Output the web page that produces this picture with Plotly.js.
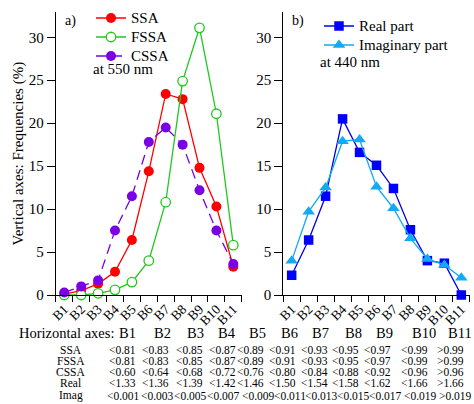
<!DOCTYPE html>
<html>
<head>
<meta charset="utf-8">
<script src="https://cdn.plot.ly/plotly-3.0.1.min.js"></script>
<style>
  html, body { margin: 0; padding: 0; background: #ffffff; }
  #chart { width: 474px; height: 404px; }
</style>
</head>
<body>
<div id="chart"></div>
<script>
// Size-bin categories shared by both panels
const BINS = ['B1', 'B2', 'B3', 'B4', 'B5', 'B6', 'B7', 'B8', 'B9', 'B10', 'B11'];

// Panel a: single-scattering albedo frequencies (%) at 550 nm
const SSA  = [0.1, 0.5, 1.3, 2.7, 6.4, 14.4, 23.4, 22.8, 14.8, 10.3, 3.3];
const FSSA = [0.0, 0.0, 0.2, 0.6, 1.5, 4.0, 10.8, 24.9, 31.1, 21.1, 5.8];
const CSSA = [0.3, 1.0, 1.7, 7.5, 11.5, 17.8, 19.5, 17.5, 12.2, 7.5, 3.6];

// Panel b: refractive index frequencies (%) at 440 nm
const REAL = [2.3, 6.4, 11.5, 20.5, 16.6, 15.1, 12.4, 7.6, 4.0, 3.7, 0.0];
const IMAG = [4.0, 9.7, 12.5, 17.9, 18.1, 12.6, 10.1, 6.6, 4.2, 3.5, 2.0];

const Y_TICKS = [0, 5, 10, 15, 20, 25, 30];

// Bin-limit table printed under the panels
const TABLE_HEAD = 'Horizontal axes:';
const ROW_NAMES = ['SSA', 'FSSA', 'CSSA', 'Real', 'Imag'];
const LIM_SSA  = ['<0.81', '<0.83', '<0.85', '<0.87', '<0.89', '<0.91', '<0.93', '<0.95', '<0.97', '<0.99', '>0.99'];
const LIM_FSSA = ['<0.81', '<0.83', '<0.85', '<0.87', '<0.89', '<0.91', '<0.93', '<0.95', '<0.97', '<0.99', '>0.99'];
const LIM_CSSA = ['<0.60', '<0.64', '<0.68', '<0.72', '<0.76', '<0.80', '<0.84', '<0.88', '<0.92', '<0.96', '>0.96'];
const LIM_REAL = ['<1.33', '<1.36', '<1.39', '<1.42', '<1.46', '<1.50', '<1.54', '<1.58', '<1.62', '<1.66', '>1.66'];
const LIM_IMAG = ['<0.001', '<0.003', '<0.005', '<0.007', '<0.009', '<0.011', '<0.013', '<0.015', '<0.017', '<0.019', '>0.019'];

// ---------------- layout helpers ----------------
const W = 474, H = 404;
const FONT = 'Liberation Serif, Times New Roman, Times, serif';
const px = v => v / W;          // pixel x -> paper
const py = v => 1 - v / H;      // pixel y -> paper

const C_SSA = '#ff0000', C_FSSA = '#1ec81e', C_CSSA = '#7a00e6';
const C_REAL = '#0000ff', C_IMAG = '#10aaf5';

// legend entries keep a compact row height while the label itself is larger
const legendLabel = s => '<span style="font-size:15px">' + s + '</span>';

const traces = [
  { x: BINS, y: SSA, name: legendLabel('SSA'), xaxis: 'x', yaxis: 'y', legend: 'legend',
    mode: 'lines+markers', cliponaxis: false,
    line: { color: C_SSA, width: 1.3 },
    marker: { symbol: 'circle', size: 10, color: C_SSA } },
  { x: BINS, y: FSSA, name: legendLabel('FSSA'), xaxis: 'x', yaxis: 'y', legend: 'legend',
    mode: 'lines+markers', cliponaxis: false,
    line: { color: C_FSSA, width: 1.3 },
    marker: { symbol: 'circle', size: 9.5, color: '#ffffff', line: { color: C_FSSA, width: 1.3 } } },
  { x: BINS, y: CSSA, name: legendLabel('CSSA'), xaxis: 'x', yaxis: 'y', legend: 'legend',
    mode: 'lines+markers', cliponaxis: false,
    line: { color: C_CSSA, width: 1.3, dash: '10px,6px' },
    marker: { symbol: 'circle', size: 10, color: C_CSSA } },
  { x: BINS, y: REAL, name: legendLabel('Real part'), xaxis: 'x2', yaxis: 'y2', legend: 'legend2',
    mode: 'lines+markers', cliponaxis: false,
    line: { color: '#0000e6', width: 1.3 },
    marker: { symbol: 'square', size: 9.5, color: C_REAL } },
  { x: BINS, y: IMAG, name: legendLabel('Imaginary part'), xaxis: 'x2', yaxis: 'y2', legend: 'legend2',
    mode: 'lines+markers', cliponaxis: false,
    line: { color: C_IMAG, width: 1.3 },
    marker: { symbol: 'triangle-up', size: 11, color: C_IMAG } }
];

function xAxis(domain, anchor) {
  return {
    domain: domain, anchor: anchor, type: 'category',
    categoryorder: 'array', categoryarray: BINS,
    range: [-0.5, BINS.length - 0.5],
    tickmode: 'linear', tick0: 0, dtick: 1,
    tickson: 'boundaries', ticks: 'outside', ticklen: 6, tickwidth: 1, tickcolor: '#000',
    showline: true, linecolor: '#000', linewidth: 1,
    showgrid: false, zeroline: false, tickangle: -45,
    tickfont: { family: FONT, size: 13.5, color: '#000' }
  };
}
function yAxis(anchor) {
  return {
    domain: [py(295), py(11.5)], anchor: anchor, range: [0, 33],
    tickvals: Y_TICKS, ticktext: Y_TICKS.map(String),
    ticks: 'outside', ticklen: 8, tickwidth: 1, tickcolor: '#000',
    showline: true, linecolor: '#000', linewidth: 1,
    showgrid: false, zeroline: false,
    tickfont: { family: FONT, size: 15, color: '#000' }
  };
}

const annotations = [];
function addText(text, x, y, size, opts) {
  annotations.push(Object.assign({
    text: text, xref: 'paper', yref: 'paper', x: px(x), y: py(y),
    xanchor: 'center', yanchor: 'middle', showarrow: false, borderpad: 0,
    font: { family: FONT, size: size, color: '#000' }
  }, opts || {}));
}

addText('Vertical axes: Frequencies (%)', 17.5, 154, 15, { textangle: -90 });
addText('a)', 70, 21, 14);
addText('b)', 297.5, 21, 14);
addText('at 550 nm', 123, 69, 15);
addText('at 440 nm', 350, 61.5, 15);

// table header
addText(TABLE_HEAD, 66.5, 333, 14.5);
const HEAD_X = [128, 162, 195, 227, 257, 289, 320.5, 353, 384, 424, 459.5];
BINS.forEach((b, i) => addText(b, HEAD_X[i], 333, 14.5));

// table body
const ROW_Y = [349.5, 360.7, 371.5, 382.7, 395.5];
const COL_X = [122, 155.5, 189.5, 222.5, 250.5, 282.3, 314, 345.7, 377.3, 414, 450.7];
const COL_X_WIDE = [123, 157, 190, 223, 258, 290, 321.5, 353, 385, 420.7, 455];
const ROWS = [LIM_SSA, LIM_FSSA, LIM_CSSA, LIM_REAL, LIM_IMAG];
ROWS.forEach((vals, r) => {
  addText(ROW_NAMES[r], 70.5, ROW_Y[r], 11.5);
  const cx = (r === ROWS.length - 1) ? COL_X_WIDE : COL_X;
  vals.forEach((v, c) => addText(v, cx[c], ROW_Y[r], 11.5));
});

const legendStyle = (x, y) => ({
  x: px(x), y: py(y), xanchor: 'left', yanchor: 'top',
  bgcolor: 'rgba(0,0,0,0)', borderwidth: 0, orientation: 'v',
  font: { family: FONT, size: 12, color: '#000' }, tracegroupgap: 0
});

const layout = {
  width: W, height: H,
  margin: { l: 0, r: 0, t: 0, b: 0, pad: 0 },
  paper_bgcolor: '#ffffff', plot_bgcolor: 'rgba(0,0,0,0)',
  showlegend: true,
  xaxis: xAxis([px(55.85), px(241.75)], 'y'),
  yaxis: yAxis('x'),
  xaxis2: xAxis([px(283.2), px(469.8)], 'y2'),
  yaxis2: yAxis('x2'),
  legend: legendStyle(91, 3.5),
  legend2: legendStyle(319, 11.5),
  annotations: annotations
};

Plotly.newPlot('chart', traces, layout, { displayModeBar: false, staticPlot: true });
</script>
</body>
</html>
